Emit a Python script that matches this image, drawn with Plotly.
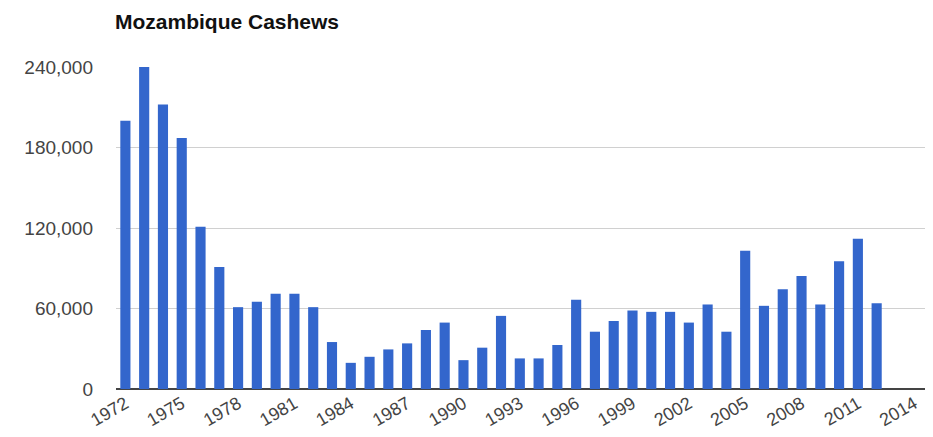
import plotly.graph_objects as go

years = list(range(1972, 2013))
tonnes = [200000, 240000, 212000, 187000, 121000, 91000, 61000, 65000, 71000, 71000,
          61000, 35000, 19500, 24000, 29500, 34000, 44000, 49500, 21500, 30800,
          54500, 22800, 22800, 32800, 66500, 42700, 50700, 58500, 57500, 57500,
          49500, 63000, 42700, 103000, 62000, 74300, 84200, 63000, 95200, 112000,
          64000]
xticks = list(range(1972, 2015, 3))
yticks = [0, 60000, 120000, 180000, 240000]
yticklabels = ["0", "60,000", "120,000", "180,000", "240,000"]

W, H = 925, 429  # page adds an 8px body margin

fig = go.Figure(go.Bar(x=years, y=tonnes, marker=dict(color="#3366CC", line_width=0),
                       width=0.54))

fig.update_layout(
    width=W, height=H,
    margin=dict(l=108, r=0, t=59, b=48),
    paper_bgcolor="white", plot_bgcolor="white",
    showlegend=False,
    font=dict(family="Liberation Sans, Arial, sans-serif", color="#444444", size=19),
    title=dict(text="<b>Mozambique Cashews</b>", x=107/W, xanchor="left", xref="container",
               y=1 - 14/H, yanchor="middle", yref="container",
               font=dict(size=21, color="#111111", family="Liberation Sans, Arial, sans-serif")),
)
fig.update_xaxes(range=[1971.5, 2015], tickvals=xticks, ticktext=[str(t) for t in xticks],
                 tickangle=-30, showgrid=False, showline=False, zeroline=False,
                 ticks="", tickfont=dict(size=18))
fig.update_yaxes(range=[0, 240000], tickvals=yticks, ticktext=yticklabels,
                 showgrid=True, gridcolor="#d0d0d0", gridwidth=1,
                 zeroline=True, zerolinecolor="#444444", zerolinewidth=1.5,
                 showline=False, ticks="", ticklabelstandoff=22)

fig.write_html("out.html")
